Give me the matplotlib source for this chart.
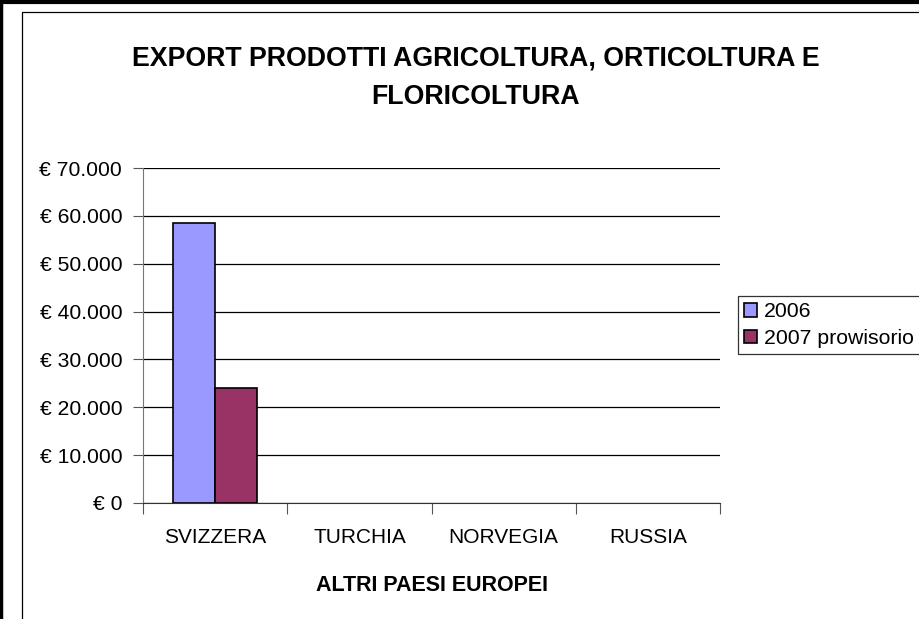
import matplotlib.pyplot as plt
from matplotlib.lines import Line2D
from matplotlib.ticker import FuncFormatter
import numpy as np

# data
paesi = ["SVIZZERA", "TURCHIA", "NORVEGIA", "RUSSIA"]
export_2006 = [58500, 0, 0, 0]
export_2007 = [24000, 0, 0, 0]
serie = ["2006", "2007 prowisorio"]

plt.rcParams['font.family'] = ['Liberation Sans', 'DejaVu Sans']

W, H = 919, 619
fig = plt.figure(figsize=(W / 100, H / 100), dpi=100)
ax = fig.add_axes([143 / W, 116 / H, 577 / W, 335 / H])

x = np.arange(len(paesi))
w = 0.29
# zero bars get no outline, like in excel
lw06 = [1.2 if v > 0 else 0 for v in export_2006]
lw07 = [1.2 if v > 0 else 0 for v in export_2007]
ax.bar(x - w / 2, export_2006, w, color="#9999FF", edgecolor="black", linewidth=lw06, label=serie[0], zorder=3)
ax.bar(x + w / 2, export_2007, w, color="#993366", edgecolor="black", linewidth=lw07, label=serie[1], zorder=3)

ax.set_xlim(-0.5, len(paesi) - 0.5)
ax.set_ylim(0, 70000)
ax.set_yticks(np.arange(0, 70001, 10000))
ax.yaxis.set_major_formatter(FuncFormatter(lambda v, p: "€ " + f"{int(v):,}".replace(",", ".")))
ax.grid(axis="y", color="black", linewidth=0.9, zorder=0)

# tick marks between categories, labels at the centres
ax.set_xticks(np.arange(-0.5, len(paesi), 1.0))
ax.set_xticklabels([])
ax.set_xticks(x, minor=True)
ax.set_xticklabels(paesi, minor=True, fontsize=15)
ax.tick_params(axis="x", which="minor", length=0, pad=18)
ax.tick_params(axis="x", which="major", length=8, color="#555555", direction="out")
ax.tick_params(axis="y", length=7, color="#555555", labelsize=15.2, pad=8)

for s in ["top", "right"]:
    ax.spines[s].set_visible(False)
ax.spines["left"].set_color("#777777")
ax.spines["bottom"].set_color("#333333")

ax.set_xlabel("ALTRI PAESI EUROPEI", fontsize=15.5, fontweight="bold", labelpad=20)

fig.text(476 / W, 1 - 78 / H, "EXPORT PRODOTTI AGRICOLTURA, ORTICOLTURA E\nFLORICOLTURA",
         ha="center", va="center", fontsize=19.3, fontweight="bold", linespacing=1.65)

leg = fig.legend(loc="upper left", bbox_to_anchor=(738 / W, 1 - 296 / H), fontsize=15.3,
                 frameon=True, fancybox=False, handlelength=0.6, handleheight=0.6,
                 handletextpad=0.3, borderpad=0.3, labelspacing=0.35, borderaxespad=0)
leg.get_frame().set_edgecolor("black")
leg.get_frame().set_linewidth(0.9)

# outer and inner borders
fig.add_artist(Line2D([1 / W, 1 / W], [0, 1], color="black", linewidth=2.5))
fig.add_artist(Line2D([0, 1], [1 - 1.5 / H, 1 - 1.5 / H], color="black", linewidth=3))
fig.add_artist(Line2D([22 / W, 22 / W, 1], [0, 1 - 12 / H, 1 - 12 / H], color="black", linewidth=0.9))

fig.savefig("out.png", dpi=100)
